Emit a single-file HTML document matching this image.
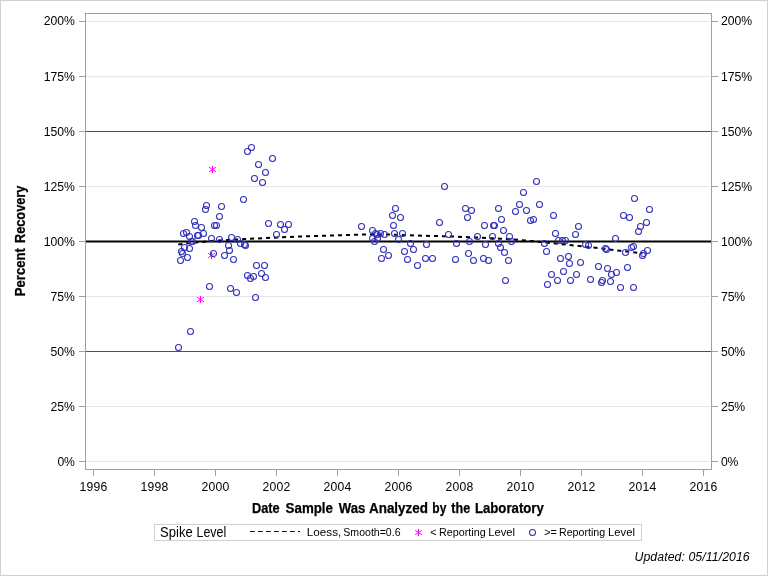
<!DOCTYPE html>
<html><head><meta charset="utf-8"><title>Percent Recovery</title>
<style>
html,body{margin:0;padding:0;background:#fff;}
body{width:768px;height:576px;overflow:hidden;}
svg{display:block;font-family:"Liberation Sans",Arial,sans-serif;fill:#000;}
.t{font-size:12.2px;}
.l{font-size:14.3px;font-weight:bold;}
.g{font-size:10.67px;}
</style></head><body>
<svg width="768" height="576" viewBox="0 0 768 576">
<rect x="0" y="0" width="768" height="576" fill="#fff"/>
<rect x="0.5" y="0.5" width="767" height="575" fill="none" stroke="#D1D1D1" stroke-width="1"/>

<g stroke="#E6E6E6" stroke-width="1" shape-rendering="crispEdges">
<line x1="86" x2="710" y1="21.5" y2="21.5"/>
<line x1="86" x2="710" y1="76.5" y2="76.5"/>
<line x1="86" x2="710" y1="186.5" y2="186.5"/>
<line x1="86" x2="710" y1="296.5" y2="296.5"/>
<line x1="86" x2="710" y1="406.5" y2="406.5"/>
<line x1="86" x2="710" y1="461.5" y2="461.5"/>
</g>
<g stroke="#4040BE" stroke-width="1" shape-rendering="crispEdges"><line x1="86" x2="711" y1="131.5" y2="131.5"/><line x1="86" x2="711" y1="351.5" y2="351.5"/></g>
<line x1="86" x2="711" y1="241.5" y2="241.5" stroke="#000" stroke-width="2"/>
<g stroke="#9BA1A5" stroke-width="1" fill="none" shape-rendering="crispEdges">
<rect x="85.5" y="13.5" width="626" height="456"/>
<line x1="79" x2="85" y1="21.5" y2="21.5"/><line x1="712" x2="718" y1="21.5" y2="21.5"/>
<line x1="79" x2="85" y1="76.5" y2="76.5"/><line x1="712" x2="718" y1="76.5" y2="76.5"/>
<line x1="79" x2="85" y1="131.5" y2="131.5"/><line x1="712" x2="718" y1="131.5" y2="131.5"/>
<line x1="79" x2="85" y1="186.5" y2="186.5"/><line x1="712" x2="718" y1="186.5" y2="186.5"/>
<line x1="79" x2="85" y1="241.5" y2="241.5"/><line x1="712" x2="718" y1="241.5" y2="241.5"/>
<line x1="79" x2="85" y1="296.5" y2="296.5"/><line x1="712" x2="718" y1="296.5" y2="296.5"/>
<line x1="79" x2="85" y1="351.5" y2="351.5"/><line x1="712" x2="718" y1="351.5" y2="351.5"/>
<line x1="79" x2="85" y1="406.5" y2="406.5"/><line x1="712" x2="718" y1="406.5" y2="406.5"/>
<line x1="79" x2="85" y1="461.5" y2="461.5"/><line x1="712" x2="718" y1="461.5" y2="461.5"/>
<line x1="93.5" x2="93.5" y1="470" y2="476"/>
<line x1="154.5" x2="154.5" y1="470" y2="476"/>
<line x1="215.5" x2="215.5" y1="470" y2="476"/>
<line x1="276.5" x2="276.5" y1="470" y2="476"/>
<line x1="337.5" x2="337.5" y1="470" y2="476"/>
<line x1="398.5" x2="398.5" y1="470" y2="476"/>
<line x1="459.5" x2="459.5" y1="470" y2="476"/>
<line x1="520.5" x2="520.5" y1="470" y2="476"/>
<line x1="581.5" x2="581.5" y1="470" y2="476"/>
<line x1="642.5" x2="642.5" y1="470" y2="476"/>
<line x1="703.5" x2="703.5" y1="470" y2="476"/>
</g>
<g class="t">
<text x="43.7" y="25.0" textLength="31.2" lengthAdjust="spacing">200%</text>
<text x="720.9" y="25.0" textLength="31.2" lengthAdjust="spacing">200%</text>
<text x="43.7" y="80.9" textLength="31.2" lengthAdjust="spacing">175%</text>
<text x="720.9" y="80.9" textLength="31.2" lengthAdjust="spacing">175%</text>
<text x="43.7" y="135.9" textLength="31.2" lengthAdjust="spacing">150%</text>
<text x="720.9" y="135.9" textLength="31.2" lengthAdjust="spacing">150%</text>
<text x="43.7" y="190.9" textLength="31.2" lengthAdjust="spacing">125%</text>
<text x="720.9" y="190.9" textLength="31.2" lengthAdjust="spacing">125%</text>
<text x="43.7" y="245.9" textLength="31.2" lengthAdjust="spacing">100%</text>
<text x="720.9" y="245.9" textLength="31.2" lengthAdjust="spacing">100%</text>
<text x="50.6" y="300.9" textLength="24.3" lengthAdjust="spacing">75%</text>
<text x="720.9" y="300.9" textLength="24.3" lengthAdjust="spacing">75%</text>
<text x="50.6" y="355.9" textLength="24.3" lengthAdjust="spacing">50%</text>
<text x="720.9" y="355.9" textLength="24.3" lengthAdjust="spacing">50%</text>
<text x="50.6" y="410.9" textLength="24.3" lengthAdjust="spacing">25%</text>
<text x="720.9" y="410.9" textLength="24.3" lengthAdjust="spacing">25%</text>
<text x="57.5" y="465.9" textLength="17.4" lengthAdjust="spacing">0%</text>
<text x="720.9" y="465.9" textLength="17.4" lengthAdjust="spacing">0%</text>
<text x="79.5" y="491" textLength="27.8" lengthAdjust="spacing">1996</text>
<text x="140.5" y="491" textLength="27.8" lengthAdjust="spacing">1998</text>
<text x="201.5" y="491" textLength="27.8" lengthAdjust="spacing">2000</text>
<text x="262.5" y="491" textLength="27.8" lengthAdjust="spacing">2002</text>
<text x="323.5" y="491" textLength="27.8" lengthAdjust="spacing">2004</text>
<text x="384.5" y="491" textLength="27.8" lengthAdjust="spacing">2006</text>
<text x="445.5" y="491" textLength="27.8" lengthAdjust="spacing">2008</text>
<text x="506.5" y="491" textLength="27.8" lengthAdjust="spacing">2010</text>
<text x="567.5" y="491" textLength="27.8" lengthAdjust="spacing">2012</text>
<text x="628.5" y="491" textLength="27.8" lengthAdjust="spacing">2014</text>
<text x="689.5" y="491" textLength="27.8" lengthAdjust="spacing">2016</text>
</g>
<text y="512.8"  style="font-size:14.30px;font-weight:bold;stroke:#000;stroke-width:0.25px"><tspan x="252.05" textLength="27.69" lengthAdjust="spacingAndGlyphs">Date</tspan> <tspan x="285.62" textLength="47.34" lengthAdjust="spacingAndGlyphs">Sample</tspan> <tspan x="338.69" textLength="26.59" lengthAdjust="spacingAndGlyphs">Was</tspan> <tspan x="368.97" textLength="59.02" lengthAdjust="spacingAndGlyphs">Analyzed</tspan> <tspan x="432.31" textLength="14.01" lengthAdjust="spacingAndGlyphs">by</tspan> <tspan x="451.35" textLength="18.88" lengthAdjust="spacingAndGlyphs">the</tspan> <tspan x="474.92" textLength="68.90" lengthAdjust="spacingAndGlyphs">Laboratory</tspan></text>
<g transform="translate(24.8,0) rotate(-90)"><text y="0.0"  style="font-size:14.30px;font-weight:bold;stroke:#000;stroke-width:0.25px"><tspan x="-296.18" textLength="48.04" lengthAdjust="spacingAndGlyphs">Percent</tspan> <tspan x="-243.05" textLength="57.42" lengthAdjust="spacingAndGlyphs">Recovery</tspan></text></g>
<path d="M178.00 244.50 L188.00 243.20 L202.00 241.90 L216.00 240.60 L245.00 239.00 L295.00 236.65 L330.00 235.55 L357.00 234.75 L372.00 234.35 L390.00 234.55 L415.00 235.45 L450.00 236.45 L480.00 237.65 L500.00 238.65 L520.00 239.95 L537.50 241.65 L570.00 245.00 L600.00 248.25 L620.00 250.75 L642.50 253.25" fill="none" stroke="#000" stroke-width="2" stroke-dasharray="4.1 3.9" stroke-dashoffset="-0.3"/>
<g fill="none" stroke="#FF00FF" stroke-width="1.05">
<path d="M212.50 166.00v7"/><path stroke-width="1" d="M209.20 167.30l6.6 4.4M209.20 171.70l6.6 -4.4"/>
<path d="M211.50 252.00v7"/><path stroke-width="1" d="M208.20 253.30l6.6 4.4M208.20 257.70l6.6 -4.4"/>
<path d="M200.50 296.00v7"/><path stroke-width="1" d="M197.20 297.30l6.6 4.4M197.20 301.70l6.6 -4.4"/>
</g>
<g fill="none" stroke="#3030BC" stroke-width="1.05">
<circle cx="251.5" cy="147.5" r="3"/>
<circle cx="247.5" cy="151.5" r="3"/>
<circle cx="272.5" cy="158.5" r="3"/>
<circle cx="258.5" cy="164.5" r="3"/>
<circle cx="265.5" cy="172.5" r="3"/>
<circle cx="254.5" cy="178.5" r="3"/>
<circle cx="262.5" cy="182.5" r="3"/>
<circle cx="243.5" cy="199.5" r="3"/>
<circle cx="206.5" cy="205.5" r="3"/>
<circle cx="205.5" cy="209.5" r="3"/>
<circle cx="221.5" cy="206.5" r="3"/>
<circle cx="219.5" cy="216.5" r="3"/>
<circle cx="194.5" cy="221.5" r="3"/>
<circle cx="195.5" cy="225.5" r="3"/>
<circle cx="201.5" cy="227.5" r="3"/>
<circle cx="214.5" cy="225.5" r="3"/>
<circle cx="216.5" cy="225.5" r="3"/>
<circle cx="268.5" cy="223.5" r="3"/>
<circle cx="280.5" cy="224.5" r="3"/>
<circle cx="288.5" cy="224.5" r="3"/>
<circle cx="284.5" cy="229.5" r="3"/>
<circle cx="276.5" cy="234.5" r="3"/>
<circle cx="186.5" cy="232.5" r="3"/>
<circle cx="183.5" cy="233.5" r="3"/>
<circle cx="203.5" cy="233.5" r="3"/>
<circle cx="197.5" cy="235.5" r="3"/>
<circle cx="198.5" cy="235.5" r="3"/>
<circle cx="189.5" cy="236.5" r="3"/>
<circle cx="211.5" cy="238.5" r="3"/>
<circle cx="219.5" cy="239.5" r="3"/>
<circle cx="231.5" cy="237.5" r="3"/>
<circle cx="237.5" cy="239.5" r="3"/>
<circle cx="191.5" cy="241.5" r="3"/>
<circle cx="192.5" cy="241.5" r="3"/>
<circle cx="240.5" cy="243.5" r="3"/>
<circle cx="244.5" cy="244.5" r="3"/>
<circle cx="245.5" cy="245.5" r="3"/>
<circle cx="228.5" cy="245.5" r="3"/>
<circle cx="184.5" cy="247.5" r="3"/>
<circle cx="189.5" cy="248.5" r="3"/>
<circle cx="181.5" cy="251.5" r="3"/>
<circle cx="182.5" cy="253.5" r="3"/>
<circle cx="229.5" cy="250.5" r="3"/>
<circle cx="213.5" cy="253.5" r="3"/>
<circle cx="224.5" cy="255.5" r="3"/>
<circle cx="187.5" cy="257.5" r="3"/>
<circle cx="180.5" cy="260.5" r="3"/>
<circle cx="233.5" cy="259.5" r="3"/>
<circle cx="256.5" cy="265.5" r="3"/>
<circle cx="264.5" cy="265.5" r="3"/>
<circle cx="261.5" cy="273.5" r="3"/>
<circle cx="247.5" cy="275.5" r="3"/>
<circle cx="253.5" cy="276.5" r="3"/>
<circle cx="250.5" cy="278.5" r="3"/>
<circle cx="265.5" cy="277.5" r="3"/>
<circle cx="209.5" cy="286.5" r="3"/>
<circle cx="230.5" cy="288.5" r="3"/>
<circle cx="236.5" cy="292.5" r="3"/>
<circle cx="255.5" cy="297.5" r="3"/>
<circle cx="178.5" cy="347.5" r="3"/>
<circle cx="190.5" cy="331.5" r="3"/>
<circle cx="444.5" cy="186.5" r="3"/>
<circle cx="395.5" cy="208.5" r="3"/>
<circle cx="392.5" cy="215.5" r="3"/>
<circle cx="400.5" cy="217.5" r="3"/>
<circle cx="393.5" cy="225.5" r="3"/>
<circle cx="361.5" cy="226.5" r="3"/>
<circle cx="372.5" cy="230.5" r="3"/>
<circle cx="375.5" cy="233.5" r="3"/>
<circle cx="377.5" cy="234.5" r="3"/>
<circle cx="380.5" cy="233.5" r="3"/>
<circle cx="384.5" cy="234.5" r="3"/>
<circle cx="394.5" cy="233.5" r="3"/>
<circle cx="402.5" cy="233.5" r="3"/>
<circle cx="372.5" cy="238.5" r="3"/>
<circle cx="377.5" cy="238.5" r="3"/>
<circle cx="374.5" cy="241.5" r="3"/>
<circle cx="398.5" cy="239.5" r="3"/>
<circle cx="410.5" cy="243.5" r="3"/>
<circle cx="383.5" cy="249.5" r="3"/>
<circle cx="413.5" cy="249.5" r="3"/>
<circle cx="404.5" cy="251.5" r="3"/>
<circle cx="388.5" cy="255.5" r="3"/>
<circle cx="381.5" cy="258.5" r="3"/>
<circle cx="407.5" cy="259.5" r="3"/>
<circle cx="417.5" cy="265.5" r="3"/>
<circle cx="426.5" cy="244.5" r="3"/>
<circle cx="425.5" cy="258.5" r="3"/>
<circle cx="432.5" cy="258.5" r="3"/>
<circle cx="439.5" cy="222.5" r="3"/>
<circle cx="448.5" cy="234.5" r="3"/>
<circle cx="456.5" cy="243.5" r="3"/>
<circle cx="455.5" cy="259.5" r="3"/>
<circle cx="465.5" cy="208.5" r="3"/>
<circle cx="471.5" cy="210.5" r="3"/>
<circle cx="467.5" cy="217.5" r="3"/>
<circle cx="469.5" cy="241.5" r="3"/>
<circle cx="468.5" cy="253.5" r="3"/>
<circle cx="473.5" cy="260.5" r="3"/>
<circle cx="477.5" cy="236.5" r="3"/>
<circle cx="536.5" cy="181.5" r="3"/>
<circle cx="523.5" cy="192.5" r="3"/>
<circle cx="519.5" cy="204.5" r="3"/>
<circle cx="539.5" cy="204.5" r="3"/>
<circle cx="498.5" cy="208.5" r="3"/>
<circle cx="515.5" cy="211.5" r="3"/>
<circle cx="526.5" cy="210.5" r="3"/>
<circle cx="553.5" cy="215.5" r="3"/>
<circle cx="501.5" cy="219.5" r="3"/>
<circle cx="530.5" cy="220.5" r="3"/>
<circle cx="533.5" cy="219.5" r="3"/>
<circle cx="484.5" cy="225.5" r="3"/>
<circle cx="493.5" cy="225.5" r="3"/>
<circle cx="494.5" cy="225.5" r="3"/>
<circle cx="578.5" cy="226.5" r="3"/>
<circle cx="503.5" cy="230.5" r="3"/>
<circle cx="555.5" cy="233.5" r="3"/>
<circle cx="575.5" cy="234.5" r="3"/>
<circle cx="492.5" cy="236.5" r="3"/>
<circle cx="509.5" cy="236.5" r="3"/>
<circle cx="511.5" cy="241.5" r="3"/>
<circle cx="544.5" cy="243.5" r="3"/>
<circle cx="558.5" cy="240.5" r="3"/>
<circle cx="562.5" cy="240.5" r="3"/>
<circle cx="565.5" cy="240.5" r="3"/>
<circle cx="485.5" cy="244.5" r="3"/>
<circle cx="498.5" cy="243.5" r="3"/>
<circle cx="500.5" cy="247.5" r="3"/>
<circle cx="504.5" cy="252.5" r="3"/>
<circle cx="546.5" cy="251.5" r="3"/>
<circle cx="585.5" cy="244.5" r="3"/>
<circle cx="588.5" cy="245.5" r="3"/>
<circle cx="483.5" cy="258.5" r="3"/>
<circle cx="488.5" cy="260.5" r="3"/>
<circle cx="508.5" cy="260.5" r="3"/>
<circle cx="560.5" cy="258.5" r="3"/>
<circle cx="568.5" cy="256.5" r="3"/>
<circle cx="569.5" cy="263.5" r="3"/>
<circle cx="580.5" cy="262.5" r="3"/>
<circle cx="598.5" cy="266.5" r="3"/>
<circle cx="505.5" cy="280.5" r="3"/>
<circle cx="551.5" cy="274.5" r="3"/>
<circle cx="547.5" cy="284.5" r="3"/>
<circle cx="557.5" cy="280.5" r="3"/>
<circle cx="563.5" cy="271.5" r="3"/>
<circle cx="570.5" cy="280.5" r="3"/>
<circle cx="576.5" cy="274.5" r="3"/>
<circle cx="590.5" cy="279.5" r="3"/>
<circle cx="634.5" cy="198.5" r="3"/>
<circle cx="649.5" cy="209.5" r="3"/>
<circle cx="623.5" cy="215.5" r="3"/>
<circle cx="629.5" cy="217.5" r="3"/>
<circle cx="646.5" cy="222.5" r="3"/>
<circle cx="640.5" cy="226.5" r="3"/>
<circle cx="638.5" cy="231.5" r="3"/>
<circle cx="615.5" cy="238.5" r="3"/>
<circle cx="605.5" cy="248.5" r="3"/>
<circle cx="606.5" cy="249.5" r="3"/>
<circle cx="631.5" cy="247.5" r="3"/>
<circle cx="633.5" cy="246.5" r="3"/>
<circle cx="625.5" cy="252.5" r="3"/>
<circle cx="647.5" cy="250.5" r="3"/>
<circle cx="643.5" cy="253.5" r="3"/>
<circle cx="642.5" cy="255.5" r="3"/>
<circle cx="607.5" cy="268.5" r="3"/>
<circle cx="627.5" cy="267.5" r="3"/>
<circle cx="616.5" cy="272.5" r="3"/>
<circle cx="611.5" cy="274.5" r="3"/>
<circle cx="602.5" cy="280.5" r="3"/>
<circle cx="601.5" cy="282.5" r="3"/>
<circle cx="610.5" cy="281.5" r="3"/>
<circle cx="620.5" cy="287.5" r="3"/>
<circle cx="633.5" cy="287.5" r="3"/>
</g>
<rect x="154.5" y="524.5" width="487" height="16" fill="#fff" stroke="#D1D1D1" stroke-width="1" shape-rendering="crispEdges"/>
<text y="536.8"  style="font-size:14.20px;"><tspan x="160.06" textLength="32.62" lengthAdjust="spacingAndGlyphs">Spike</tspan> <tspan x="196.48" textLength="29.75" lengthAdjust="spacingAndGlyphs">Level</tspan></text>
<line x1="250" x2="300" y1="531.5" y2="531.5" stroke="#000" stroke-width="1" stroke-dasharray="4.8 3.2"/>
<text y="536.0"  style="font-size:10.80px;"><tspan x="306.84" textLength="34.41" lengthAdjust="spacingAndGlyphs">Loess,</tspan> <tspan x="343.32" textLength="57.24" lengthAdjust="spacingAndGlyphs">Smooth=0.6</tspan></text>
<g fill="none" stroke="#FF00FF" stroke-width="1.05"><path d="M418.50 529.00v7"/><path stroke-width="1" d="M415.20 530.30l6.6 4.4M415.20 534.70l6.6 -4.4"/></g>
<text y="536.0"  style="font-size:10.80px;"><tspan x="430.37" textLength="6.25" lengthAdjust="spacingAndGlyphs">&lt;</tspan> <tspan x="439.02" textLength="46.68" lengthAdjust="spacingAndGlyphs">Reporting</tspan> <tspan x="488.18" textLength="26.87" lengthAdjust="spacingAndGlyphs">Level</tspan></text>
<circle cx="532.5" cy="532.5" r="3" fill="none" stroke="#3030BC" stroke-width="1.05"/>
<text y="536.0"  style="font-size:10.80px;"><tspan x="544.17" textLength="12.62" lengthAdjust="spacingAndGlyphs">&gt;=</tspan> <tspan x="559.03" textLength="46.16" lengthAdjust="spacingAndGlyphs">Reporting</tspan> <tspan x="608.08" textLength="26.87" lengthAdjust="spacingAndGlyphs">Level</tspan></text>
<text x="634.5" y="560.8" style="font-size:12.3px;font-style:italic" textLength="115.2" lengthAdjust="spacing">Updated: 05/11/2016</text>
</svg></body></html>
